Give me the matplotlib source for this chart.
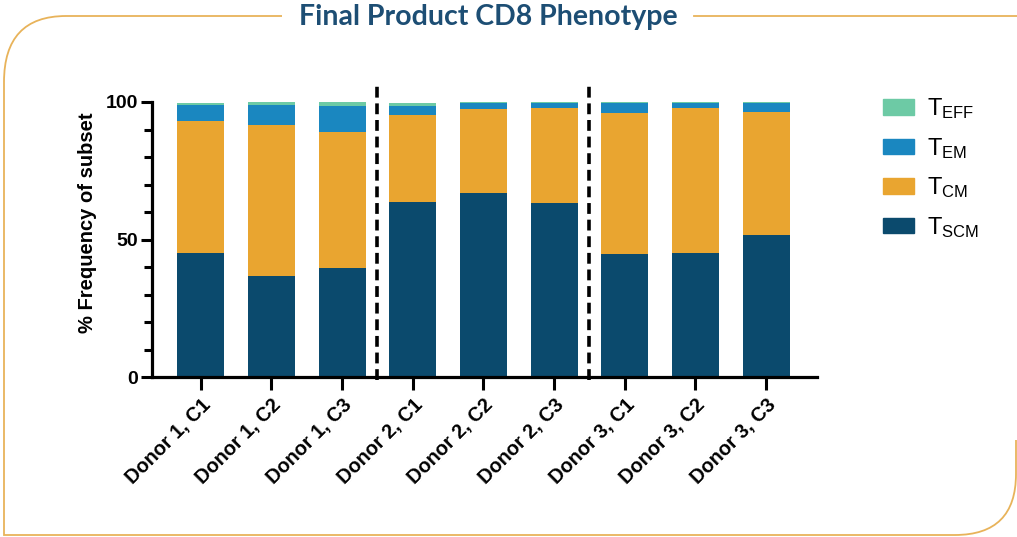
import numpy as np
import matplotlib
matplotlib.use("Agg")
import matplotlib.pyplot as plt
from matplotlib.path import Path
from matplotlib.patches import PathPatch, Patch
from matplotlib.ticker import MultipleLocator

# data (percent of CD8 cells)
samples = ["Donor 1, C1", "Donor 1, C2", "Donor 1, C3",
           "Donor 2, C1", "Donor 2, C2", "Donor 2, C3",
           "Donor 3, C1", "Donor 3, C2", "Donor 3, C3"]
t_scm = [45.1, 36.8, 39.8, 63.8, 66.8, 63.4, 44.7, 45.0, 51.6]
t_cm = [48.0, 54.7, 49.4, 31.5, 30.5, 34.5, 51.4, 53.0, 44.8]
t_em = [5.8, 7.4, 9.3, 3.2, 2.3, 1.8, 3.4, 1.5, 3.1]
t_eff = [0.8, 1.0, 1.5, 1.3, 0.3, 0.3, 0.5, 0.4, 0.5]
donor_breaks = [2.5, 5.5]

col_scm = "#0b4a6d"
col_cm = "#e9a530"
col_em = "#1a87c0"
col_eff = "#6dcaa5"
frame_col = "#e8b35a"

plt.rcParams['font.family'] = ['Liberation Sans', 'DejaVu Sans']
plt.rcParams['mathtext.default'] = 'regular'

fig = plt.figure(figsize=(10.17, 5.37), dpi=100)

# decorative rounded frame, pixel coordinates
bg = fig.add_axes([0, 0, 1, 1], zorder=0)
bg.set_xlim(0, 1017)
bg.set_ylim(537, 0)
bg.axis("off")
verts = [(282, 16), (66, 16), (4, 16), (4, 82), (4, 535), (955, 535),
         (1016, 535), (1016, 474), (1016, 440)]
codes = [Path.MOVETO, Path.LINETO, Path.CURVE3, Path.CURVE3, Path.LINETO,
         Path.LINETO, Path.CURVE3, Path.CURVE3, Path.LINETO]
bg.add_patch(PathPatch(Path(verts, codes), fill=False, ec=frame_col, lw=1.3))
bg.plot([694, 1017], [16, 16], color=frame_col, lw=1.3)
bg.text(488, 17, "Final Product CD8 Phenotype", ha="center", va="center",
        fontsize=20.5, fontweight="bold", color="#1d4e74", family="Lato")

ax = fig.add_axes([152/1017, 1-377/537, 665/1017, 275/537], zorder=1)
ax.patch.set_alpha(0)
x = np.arange(len(samples))
w = 0.665
b1 = np.array(t_scm)
b2 = b1 + np.array(t_cm)
b3 = b2 + np.array(t_em)
ax.bar(x, t_scm, w, color=col_scm, edgecolor="none")
ax.bar(x, t_cm, w, bottom=b1, color=col_cm, edgecolor="none")
ax.bar(x, t_em, w, bottom=b2, color=col_em, edgecolor="none")
ax.bar(x, t_eff, w, bottom=b3, color=col_eff, edgecolor="none")

for xb in donor_breaks:
    ax.plot([xb, xb], [-1, 107], color="black", lw=2.6,
            ls=(0, (3, 1.6)), clip_on=False)

ax.set_xlim(-0.69, 8.72)
ax.set_ylim(0, 100)
for s in ["top", "right"]:
    ax.spines[s].set_visible(False)
for s in ["left", "bottom"]:
    ax.spines[s].set_linewidth(2.3)
ax.yaxis.set_major_locator(MultipleLocator(50))
ax.yaxis.set_minor_locator(MultipleLocator(10))
ax.tick_params(axis="y", which="major", length=8, width=2.2, labelsize=14, pad=2)
ax.tick_params(axis="y", which="minor", length=6, width=2.2)
ax.tick_params(axis="x", length=9, width=2.2, labelsize=14.3, pad=4)
ax.set_xticks(x)
ax.set_xticklabels(samples, rotation=45, ha="right", rotation_mode="anchor",
                   fontweight="bold")
for lab in ax.get_yticklabels():
    lab.set_fontweight("bold")
ax.set_ylabel("% Frequency of subset", fontsize=14.5, fontweight="bold")
ax.yaxis.set_label_coords(-0.082, 0.56)

handles = [Patch(color=col_eff), Patch(color=col_em), Patch(color=col_cm), Patch(color=col_scm)]
labels = ["$T_{EFF}$", "$T_{EM}$", "$T_{CM}$", "$T_{SCM}$"]
fig.legend(handles, labels, loc="upper left", bbox_to_anchor=(862/1017, 1-75/537),
           frameon=False, fontsize=17, handlelength=1.3, handleheight=0.65,
           handletextpad=0.55, labelspacing=0.62)

fig.savefig("out.png", dpi=100)
